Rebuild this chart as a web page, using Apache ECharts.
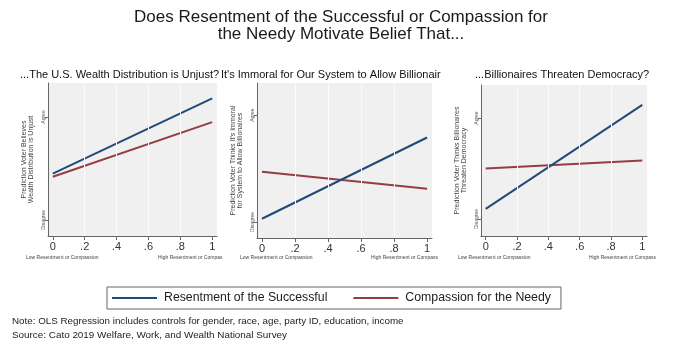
<!DOCTYPE html>
<html>
<head>
<meta charset="utf-8">
<script src="https://cdn.jsdelivr.net/npm/echarts@6/dist/echarts.min.js"></script>
<style>
  html, body { margin: 0; padding: 0; background: #fff; }
  #chart { width: 680px; height: 350px; }
</style>
</head>
<body>
<div id="chart"></div>
<script>
// x: level of resentment / compassion (0 = low, 1 = high)
const xPoints = [0, 1]
const xTicks = [0, 0.2, 0.4, 0.6, 0.8, 1]
// y: 0 = Disagree, 1 = Agree
const yTicks = [0, 1]
const yTickLabels = ['Disagree', 'Agree']

const unjustResentment = [0.45, 1.18]
const unjustCompassion = [0.42, 0.95]
const immoralResentment = [0.03, 0.79]
const immoralCompassion = [0.47, 0.31]
const threatenResentment = [0.10, 1.13]
const threatenCompassion = [0.50, 0.58]

const seriesNames = ['Resentment of the Successful', 'Compassion for the Needy']
const panelTitles = [
    '...The U.S. Wealth Distribution is Unjust?',
    "It's Immoral for Our System to Allow Billionaires?",
    '...Billionaires Threaten Democracy?',
]
const yNames = [
    'Prediction Voter Believes\nWealth Distribution is Unjust',
    "Prediction Voter Thinks It's Immoral\nfor System to Allow Billionaires",
    'Prediction Voter Thinks Billionaires\nThreaten Democracy',
]

const FONT = '"Liberation Sans", Arial, sans-serif'
const BLUE = '#1f4b78'
const RED = '#953c45'

const toPairs = ys => xPoints.map((x, i) => [x, ys[i]])

// layout of the three panels
const grids = [
    { left: 48, top: 83, width: 169, height: 153 },
    { left: 257, top: 83, width: 175, height: 155 },
    { left: 481, top: 85, width: 166, height: 151 },
]
const yRanges = [
    [-0.155, 1.33],
    [-0.15, 1.30],
    [-0.168, 1.327],
]

let xAxes = grids.map((g, i) => ({
    type: 'value',
    gridIndex: i,
    min: -0.03,
    max: 1.03,
    axisLine: { show: true, onZero: false, lineStyle: { color: '#666', width: 1 } },
    axisTick: { show: true, length: 4, customValues: xTicks, lineStyle: { color: '#666' } },
    axisLabel: {
        customValues: xTicks,
        fontSize: 11,
        color: '#333',
        fontFamily: FONT,
        margin: 5,
        formatter: v => (v === 0 ? '0' : v === 1 ? '1' : String(v).replace(/^0/, '')),
    },
    splitLine: { show: false },
}))

let yAxes = grids.map((g, i) => ({
    type: 'value',
    gridIndex: i,
    min: yRanges[i][0],
    max: yRanges[i][1],
    name: yNames[i],
    nameLocation: 'middle',
    nameRotate: 90,
    nameGap: 13,
    nameTextStyle: { fontSize: 7, lineHeight: 7, color: '#444', fontFamily: FONT },
    axisLine: { show: true, onZero: false, lineStyle: { color: '#666', width: 1 } },
    axisTick: { show: true, length: 3, customValues: yTicks, lineStyle: { color: '#666' } },
    axisLabel: {
        customValues: yTicks,
        rotate: 90,
        fontSize: 5,
        color: '#555',
        fontFamily: FONT,
        margin: 2,
        formatter: v => yTickLabels[yTicks.indexOf(v)],
    },
    splitLine: { show: false },
}))

const panelData = [
    [unjustResentment, unjustCompassion],
    [immoralResentment, immoralCompassion],
    [threatenResentment, threatenCompassion],
]

let series = []
panelData.forEach((pair, i) => {
    pair.forEach((ys, k) => {
        series.push({
            name: seriesNames[k],
            type: 'line',
            xAxisIndex: i,
            yAxisIndex: i,
            data: toPairs(ys),
            showSymbol: false,
            symbol: 'none',
            lineStyle: { width: 2, color: k === 0 ? BLUE : RED },
            itemStyle: { color: k === 0 ? BLUE : RED },
            z: k === 0 ? 3 : 2,
        })
    })
})

// faint vertical guides at each x tick
grids.forEach((g, i) => {
    series.push({
        type: 'line',
        xAxisIndex: i,
        yAxisIndex: i,
        data: [],
        silent: true,
        markLine: {
            silent: true,
            symbol: 'none',
            label: { show: false },
            lineStyle: { color: '#fbfbfb', width: 1, type: 'solid' },
            data: xTicks.slice(1, 5).map(v => ({ xAxis: v })),
        },
        z: 1,
    })
})

const lowHigh = [
    { low: 26, high: 158, clip: 69 },
    { low: 240, high: 371, clip: 71 },
    { low: 458, high: 589, clip: 73 },
]

let graphics = []
lowHigh.forEach(p => {
    graphics.push({
        type: 'text',
        left: p.low,
        top: 255,
        style: { text: 'Low Resentment or Compassion', fontSize: 5, fill: '#444', fontFamily: FONT },
    })
    graphics.push({
        type: 'text',
        left: p.high,
        top: 255,
        style: {
            text: 'High Resentment or Compassion',
            fontSize: 5,
            fill: '#444',
            fontFamily: FONT,
            width: p.clip,
            overflow: 'truncate',
            ellipsis: '',
        },
    })
})
graphics.push({
    type: 'text',
    left: 12,
    top: 316,
    style: {
        text: 'Note: OLS Regression includes controls for gender, race, age, party ID, education, income',
        fontSize: 9.8,
        fill: '#222',
        fontFamily: FONT,
    },
})
graphics.push({
    type: 'text',
    left: 12,
    top: 330,
    style: {
        text: 'Source: Cato 2019 Welfare, Work, and Wealth National Survey',
        fontSize: 9.9,
        fill: '#222',
        fontFamily: FONT,
    },
})

var myChart = echarts.init(document.getElementById('chart'), null, { renderer: 'canvas' })
var option = {
    backgroundColor: '#fff',
    animation: false,
    title: [
        {
            text: 'Does Resentment of the Successful or Compassion for\nthe Needy Motivate Belief That...',
            left: 336,
            top: 4,
            textAlign: 'center',
            textStyle: { fontSize: 17, fontWeight: 'normal', color: '#1a1a1a', lineHeight: 17, fontFamily: FONT },
        },
        {
            text: panelTitles[0],
            left: 20,
            top: 69,
            padding: 0,
            textStyle: { fontSize: 11, fontWeight: 'normal', color: '#111', fontFamily: FONT },
        },
        {
            text: panelTitles[1],
            left: 221,
            top: 69,
            padding: 0,
            textStyle: {
                fontSize: 11,
                fontWeight: 'normal',
                color: '#111',
                fontFamily: FONT,
                width: 224,
                overflow: 'truncate',
                ellipsis: '',
            },
        },
        {
            text: panelTitles[2],
            left: 475,
            top: 69,
            padding: 0,
            textStyle: { fontSize: 11, fontWeight: 'normal', color: '#111', fontFamily: FONT },
        },
    ],
    legend: {
        left: 107,
        top: 287,
        orient: 'horizontal',
        data: seriesNames,
        icon: 'rect',
        itemWidth: 45,
        itemHeight: 2,
        itemGap: 26,
        padding: [5, 10, 5, 5],
        borderColor: '#666',
        borderWidth: 1,
        textStyle: { fontSize: 12.3, color: '#222', fontFamily: FONT, padding: [0, 0, 0, 2] },
    },
    grid: grids.map(g => ({
        ...g,
        show: true,
        backgroundColor: '#f0f0f0',
        borderWidth: 0,
    })),
    xAxis: xAxes,
    yAxis: yAxes,
    series: series,
    graphic: graphics,
}
myChart.setOption(option)
</script>
</body>
</html>
